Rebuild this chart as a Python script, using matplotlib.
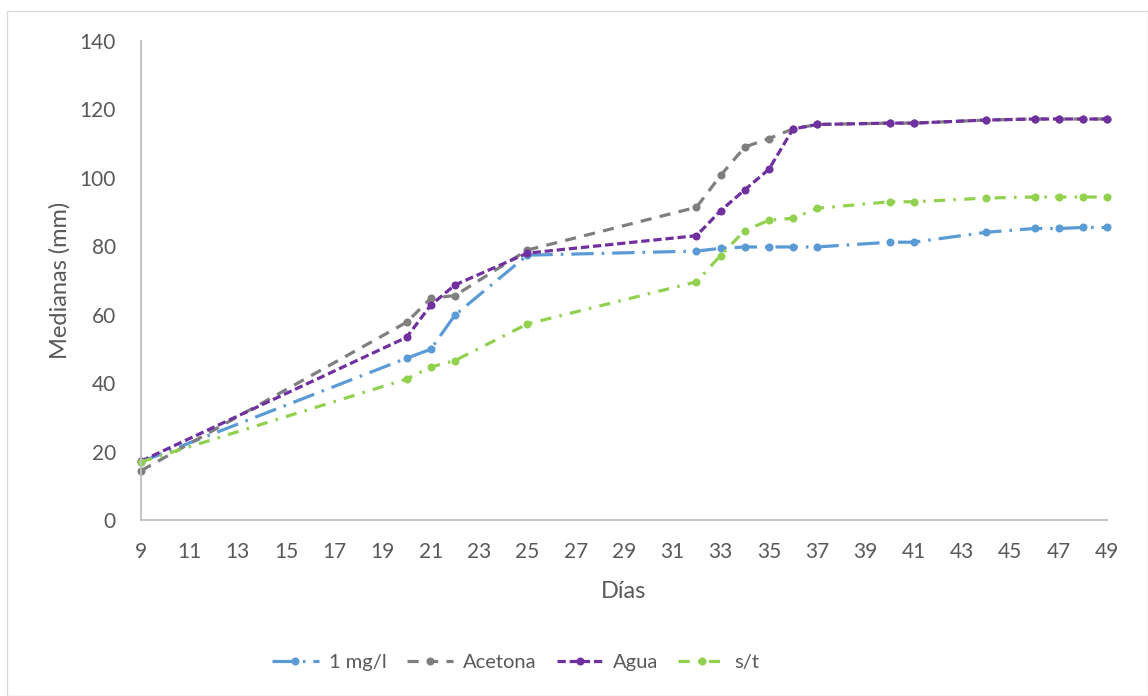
import matplotlib
matplotlib.use("Agg")
import matplotlib.pyplot as plt
from matplotlib.patches import Rectangle

# Días de medición
dias = [9, 20, 21, 22, 25, 32, 33, 34, 35, 36, 37, 40, 41, 44, 46, 47, 48, 49]

# Medianas (mm) por tratamiento
mg_1 = [17.0, 47.3, 49.9, 59.9, 77.4, 78.6, 79.4, 79.8, 79.8, 79.8, 79.8,
        81.2, 81.2, 84.1, 85.2, 85.2, 85.5, 85.5]
acetona = [14.4, 57.8, 64.8, 65.6, 78.9, 91.4, 100.7, 109.0, 111.5, 114.3, 115.6,
           116.0, 116.0, 116.9, 117.2, 117.2, 117.2, 117.2]
agua = [17.2, 53.4, 62.8, 68.7, 78.0, 83.1, 90.4, 96.5, 102.5, 114.3, 115.6,
        116.0, 116.0, 116.9, 117.2, 117.2, 117.2, 117.2]
sin_trat = [17.0, 41.2, 44.7, 46.6, 57.3, 69.6, 77.3, 84.6, 87.6, 88.2, 91.1,
            93.0, 93.0, 94.1, 94.4, 94.4, 94.4, 94.4]

etiquetas = ["1 mg/l", "Acetona", "Agua", "s/t"]
x_ticks = list(range(9, 50, 2))
y_ticks = list(range(0, 141, 20))

plt.rcParams["font.family"] = ["Lato", "DejaVu Sans"]
texto = "#595959"

W, H = 1148, 696
fig = plt.figure(figsize=(W / 100, H / 100), dpi=100)

# borde del área del gráfico
fig.patches.append(Rectangle((7 / W, 0), 1 - 7 / W, 1 - 11 / H, transform=fig.transFigure,
                             fill=False, edgecolor="#D9D9D9", linewidth=1))

ax = fig.add_axes([141 / W, 1 - 520 / H, (1107 - 141) / W, (520 - 41) / H])

colores = ["#5B9BD5", "#7F7F7F", "#7030A0", "#92D050"]
patrones = [(7, 2.5, 0.8, 2.5), (3.5, 2.6), (2.6, 1.2), (3.5, 2.6, 0.8, 2.6)]
for datos, color, patron, nombre in zip([mg_1, acetona, agua, sin_trat],
                                         colores, patrones, etiquetas):
    ax.plot(dias, datos, color=color, linewidth=2.3, dashes=patron,
            dash_capstyle="butt", marker="o", markersize=5.8,
            markeredgewidth=0, label=nombre, clip_on=False)

ax.set_xlim(9, 49)
ax.set_ylim(0, 140)
ax.set_xticks(x_ticks)
ax.set_yticks(y_ticks)
ax.tick_params(length=0, labelsize=15, colors=texto)
ax.tick_params(axis="y", pad=18)
ax.tick_params(axis="x", pad=16)

for lado in ["top", "right"]:
    ax.spines[lado].set_visible(False)
for lado in ["left", "bottom"]:
    ax.spines[lado].set_color("#BFBFBF")
    ax.spines[lado].set_linewidth(1.3)

fig.text(60 / W, 1 - 280 / H, "Medianas (mm)", rotation=90, ha="center", va="center",
         fontsize=17, color=texto)
fig.text(624 / W, 1 - 592 / H, "Días", ha="center", va="center", fontsize=17, color=texto)

h, l = ax.get_legend_handles_labels()
leg = fig.legend(h, l, loc="center", bbox_to_anchor=(516 / W, 1 - 662 / H), ncol=4,
                 frameon=False, fontsize=14.5, handlelength=2.3, handletextpad=0.5,
                 columnspacing=1.0, labelcolor=texto)

fig.savefig("out.png", dpi=100)
